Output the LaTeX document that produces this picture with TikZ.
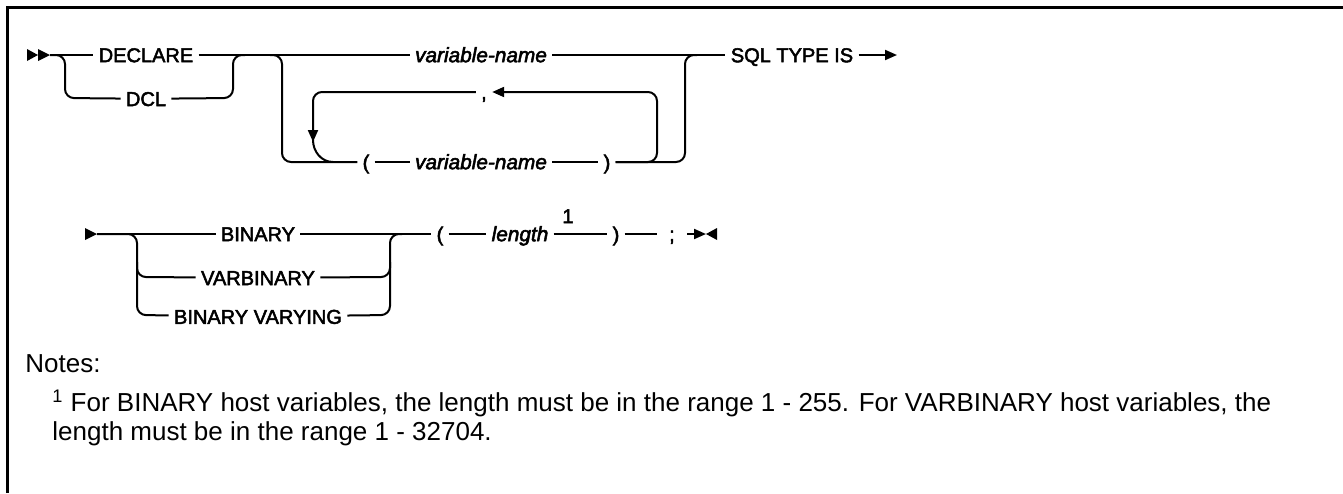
\documentclass[tikz,border=0pt]{standalone}
\usepackage{fontspec}
\setmainfont{Liberation Sans}
\newfontfamily\railfont[FakeBold=2.5]{Liberation Sans}
\usetikzlibrary{positioning,arrows.meta}

\begin{document}
\begin{tikzpicture}[x=0.5pt, y=-0.5pt,
    rail/.style={line width=1pt},
    turn/.style={rail, rounded corners=4.5pt},
    back/.style={turn, -{Triangle[length=6pt, width=5pt]}},
    kw/.style={font=\railfont\fontsize{10}{12}\selectfont, inner xsep=2.5pt,
               inner ysep=0pt, text height=7.2pt, text depth=0pt},
    param/.style={kw, font=\railfont\fontsize{10.4}{12}\selectfont\itshape},
    note/.style={font=\fontsize{13}{14.3}\selectfont, inner sep=0pt}
]
    \useasboundingbox (0,0) rectangle (1343,493);
    \draw[line width=1.5pt] (7.5,493) -- (7.5,7.5) -- (1343,7.5);

    % first line: DECLARE / DCL, then the list of names
    \node[kw] (decl) at (146,55) {DECLARE};
    \node[kw, below=14.3pt of decl] (dcl) {DCL};
    \node[param] (var1) at (481,55) {variable-name};
    \node[kw] (lp) at (366,162) {(};
    \node[param] (var2) at (481,162) {variable-name};
    \node[kw] (rp) at (607,162) {)};
    \node[kw] (comma) at (484,92) {,};
    \node[kw] (sql) at (792,55) {SQL TYPE IS};
    \coordinate (in1) at (50,55);
    \coordinate (out1) at (897,55);

    \fill (27,49) -- (38,55) -- (27,61) -- cycle;
    \fill (38,49) -- (50,55) -- (38,61) -- cycle;
    \draw[rail] (in1) -- (decl);
    \draw[turn] (in1) -- (65,55) -- (65,98) -- (dcl);
    \draw[turn] (dcl) -- (233,98) -- (233,55) -- (245,55);
    \draw[rail] (decl) -- (var1);
    \draw[turn] (270,55) -- (282,55) -- (282,162) -- (lp);
    \draw[rail] (lp) -- (var2);
    \draw[rail] (var2) -- (rp);
    \draw[turn] (rp) -- (685,162) -- (685,55) -- (697,55);
    \draw[back] (rp) -- (657,162) -- (657,92) -- (comma);
    \draw[back] (comma) -- (313,92) -- (313,142);
    \draw[rail] (313,140) to[out=-90, in=180] (333,162);
    \draw[rail] (var1) -- (sql);
    \draw[rail, -{Triangle[length=6pt, width=5pt]}] (sql) -- (out1);

    % second line: the type and its length
    \node[kw] (bin) at (258,234) {BINARY};
    \node[kw, below=14.3pt of bin] (vbin) {VARBINARY};
    \node[kw, below=11.8pt of vbin] (bvar) {BINARY VARYING};
    \node[kw] (lp2) at (440,234) {(};
    \node[param] (len) at (520,234) {length};
    \node[kw] (fn) at (568,216) {1};
    \node[kw] (rp2) at (616,234) {)};
    \node[kw, inner xsep=6pt] (semi) at (672,234) {;};
    \coordinate (in2) at (97,234);
    \coordinate (out2) at (706,234);

    \fill (85,228) -- (97,234) -- (85,240) -- cycle;
    \draw[rail] (in2) -- (bin);
    \draw[turn] (in2) -- (137,234) -- (137,315) -- (bvar);
    \draw[turn] (137,262) -- (137,277) -- (vbin);
    \draw[rail] (bin) -- (lp2);
    \draw[turn] (vbin) -- (390,277) -- (390,262);
    \draw[turn] (bvar) -- (390,315) -- (390,234) -- (402,234);
    \draw[rail] (lp2) -- (len);
    \draw[rail] (len) -- (rp2);
    \draw[rail] (rp2) -- (semi);
    \draw[rail, -{Triangle[length=6pt, width=5pt]}] (semi) -- (out2);
    \fill (717,228) -- (706,234) -- (717,240) -- cycle;

    % notes
    \node[note, anchor=west] (notes) at (25,364) {Notes:};
    \node[note, anchor=north west, align=left] (note1) at (52,390)
        {\textsuperscript{1} For BINARY host variables, the length must be in the range 1 - 255. For VARBINARY host variables, the\\
         length must be in the range 1 - 32704.};
\end{tikzpicture}
\end{document}
